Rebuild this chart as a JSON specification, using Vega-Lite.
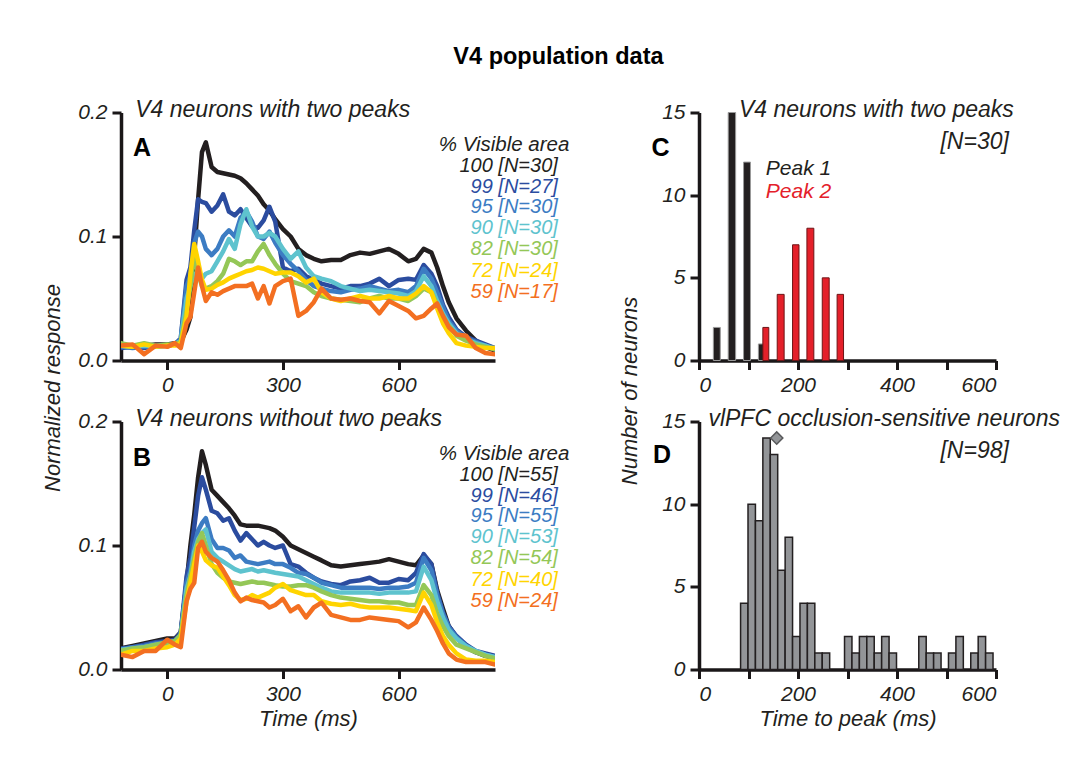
{
  "$schema": "https://vega.github.io/schema/vega-lite/v6.json",
  "background": "white",
  "padding": {"left": 41, "top": 44.5, "right": 10, "bottom": 10},
  "title": {"text": "V4 population data", "font": "Liberation Sans", "fontSize": 23.5, "fontWeight": "bold", "color": "#000000", "anchor": "middle", "offset": 30, "dx": 8},
  "config": {
    "view": {"stroke": null},
    "font": "Liberation Sans",
    "axis": {
      "grid": false,
      "domainColor": "#1a1718", "domainWidth": 3.5,
      "tickColor": "#1a1718", "tickWidth": 3, "tickSize": 9,
      "labelFont": "Liberation Sans", "labelFontStyle": "italic", "labelFontSize": 21, "labelColor": "#231f20", "labelPadding": 5,
      "titleFont": "Liberation Sans", "titleFontStyle": "italic", "titleFontWeight": "normal", "titleFontSize": 22, "titleColor": "#231f20"
    },
    "text": {"font": "Liberation Sans"}
  },
  "datasets": {
    "A": [
      {"t": -120, "100": 0.011, "99": 0.010, "95": 0.011, "90": 0.012, "82": 0.014, "72": 0.012, "59": 0.012},
      {"t": -90, "100": 0.012, "99": 0.011, "95": 0.010, "90": 0.011, "82": 0.012, "72": 0.011, "59": 0.013},
      {"t": -60, "100": 0.012, "99": 0.010, "95": 0.011, "90": 0.012, "82": 0.014, "72": 0.013, "59": 0.005},
      {"t": -30, "100": 0.013, "99": 0.012, "95": 0.011, "90": 0.011, "82": 0.012, "72": 0.011, "59": 0.012},
      {"t": 0, "100": 0.013, "99": 0.012, "95": 0.012, "90": 0.012, "82": 0.013, "72": 0.012, "59": 0.011},
      {"t": 20, "100": 0.014, "99": 0.013, "95": 0.013, "90": 0.013, "82": 0.013, "72": 0.012, "59": 0.014},
      {"t": 35, "100": 0.015, "99": 0.018, "95": 0.017, "90": 0.016, "82": 0.015, "72": 0.014, "59": 0.010},
      {"t": 50, "100": 0.025, "99": 0.065, "95": 0.060, "90": 0.050, "82": 0.040, "72": 0.035, "59": 0.030},
      {"t": 60, "100": 0.035, "99": 0.075, "95": 0.068, "90": 0.060, "82": 0.060, "72": 0.070, "59": 0.035},
      {"t": 70, "100": 0.085, "99": 0.105, "95": 0.095, "90": 0.070, "82": 0.085, "72": 0.094, "59": 0.055},
      {"t": 80, "100": 0.130, "99": 0.130, "95": 0.104, "90": 0.068, "82": 0.070, "72": 0.080, "59": 0.075},
      {"t": 90, "100": 0.168, "99": 0.128, "95": 0.100, "90": 0.066, "82": 0.060, "72": 0.065, "59": 0.060},
      {"t": 100, "100": 0.176, "99": 0.127, "95": 0.090, "90": 0.070, "82": 0.058, "72": 0.057, "59": 0.048},
      {"t": 115, "100": 0.156, "99": 0.120, "95": 0.085, "90": 0.072, "82": 0.060, "72": 0.058, "59": 0.055},
      {"t": 130, "100": 0.152, "99": 0.125, "95": 0.090, "90": 0.080, "82": 0.064, "72": 0.061, "59": 0.053},
      {"t": 145, "100": 0.151, "99": 0.134, "95": 0.100, "90": 0.088, "82": 0.070, "72": 0.063, "59": 0.056},
      {"t": 160, "100": 0.150, "99": 0.120, "95": 0.105, "90": 0.098, "82": 0.082, "72": 0.066, "59": 0.058},
      {"t": 175, "100": 0.149, "99": 0.117, "95": 0.100, "90": 0.090, "82": 0.080, "72": 0.068, "59": 0.060},
      {"t": 190, "100": 0.147, "99": 0.122, "95": 0.115, "90": 0.110, "82": 0.077, "72": 0.070, "59": 0.060},
      {"t": 205, "100": 0.143, "99": 0.115, "95": 0.120, "90": 0.122, "82": 0.080, "72": 0.072, "59": 0.060},
      {"t": 220, "100": 0.138, "99": 0.108, "95": 0.112, "90": 0.108, "82": 0.080, "72": 0.073, "59": 0.062},
      {"t": 235, "100": 0.133, "99": 0.107, "95": 0.100, "90": 0.100, "82": 0.088, "72": 0.075, "59": 0.050},
      {"t": 250, "100": 0.126, "99": 0.113, "95": 0.098, "90": 0.100, "82": 0.094, "72": 0.074, "59": 0.060},
      {"t": 265, "100": 0.121, "99": 0.124, "95": 0.104, "90": 0.103, "82": 0.085, "72": 0.072, "59": 0.046},
      {"t": 280, "100": 0.114, "99": 0.112, "95": 0.095, "90": 0.100, "82": 0.078, "72": 0.070, "59": 0.060},
      {"t": 300, "100": 0.106, "99": 0.075, "95": 0.085, "90": 0.090, "82": 0.070, "72": 0.071, "59": 0.064},
      {"t": 320, "100": 0.100, "99": 0.072, "95": 0.078, "90": 0.082, "82": 0.064, "72": 0.071, "59": 0.066},
      {"t": 340, "100": 0.090, "99": 0.074, "95": 0.072, "90": 0.088, "82": 0.062, "72": 0.068, "59": 0.036},
      {"t": 360, "100": 0.085, "99": 0.068, "95": 0.065, "90": 0.075, "82": 0.060, "72": 0.063, "59": 0.040},
      {"t": 380, "100": 0.082, "99": 0.065, "95": 0.060, "90": 0.068, "82": 0.055, "72": 0.066, "59": 0.047},
      {"t": 400, "100": 0.080, "99": 0.062, "95": 0.058, "90": 0.066, "82": 0.052, "72": 0.055, "59": 0.058},
      {"t": 425, "100": 0.081, "99": 0.060, "95": 0.056, "90": 0.064, "82": 0.050, "72": 0.050, "59": 0.050},
      {"t": 450, "100": 0.081, "99": 0.058, "95": 0.055, "90": 0.060, "82": 0.049, "72": 0.048, "59": 0.049},
      {"t": 475, "100": 0.085, "99": 0.060, "95": 0.057, "90": 0.058, "82": 0.048, "72": 0.050, "59": 0.050},
      {"t": 500, "100": 0.087, "99": 0.060, "95": 0.058, "90": 0.056, "82": 0.047, "72": 0.052, "59": 0.048},
      {"t": 525, "100": 0.086, "99": 0.062, "95": 0.060, "90": 0.057, "82": 0.050, "72": 0.050, "59": 0.047},
      {"t": 550, "100": 0.088, "99": 0.066, "95": 0.058, "90": 0.056, "82": 0.052, "72": 0.050, "59": 0.038},
      {"t": 575, "100": 0.090, "99": 0.060, "95": 0.056, "90": 0.055, "82": 0.050, "72": 0.052, "59": 0.048},
      {"t": 600, "100": 0.086, "99": 0.065, "95": 0.057, "90": 0.054, "82": 0.050, "72": 0.050, "59": 0.044},
      {"t": 625, "100": 0.080, "99": 0.066, "95": 0.055, "90": 0.052, "82": 0.048, "72": 0.050, "59": 0.040},
      {"t": 645, "100": 0.082, "99": 0.065, "95": 0.060, "90": 0.056, "82": 0.052, "72": 0.054, "59": 0.034},
      {"t": 665, "100": 0.090, "99": 0.077, "95": 0.074, "90": 0.068, "82": 0.058, "72": 0.060, "59": 0.036},
      {"t": 685, "100": 0.087, "99": 0.070, "95": 0.066, "90": 0.060, "82": 0.055, "72": 0.055, "59": 0.042},
      {"t": 700, "100": 0.075, "99": 0.060, "95": 0.055, "90": 0.048, "82": 0.045, "72": 0.042, "59": 0.046},
      {"t": 715, "100": 0.060, "99": 0.045, "95": 0.043, "90": 0.038, "82": 0.035, "72": 0.030, "59": 0.036},
      {"t": 730, "100": 0.047, "99": 0.035, "95": 0.032, "90": 0.030, "82": 0.028, "72": 0.022, "59": 0.027},
      {"t": 750, "100": 0.034, "99": 0.025, "95": 0.024, "90": 0.022, "82": 0.020, "72": 0.014, "59": 0.021},
      {"t": 775, "100": 0.024, "99": 0.019, "95": 0.018, "90": 0.017, "82": 0.016, "72": 0.012, "59": 0.020},
      {"t": 800, "100": 0.016, "99": 0.016, "95": 0.015, "90": 0.014, "82": 0.013, "72": 0.011, "59": 0.010},
      {"t": 825, "100": 0.011, "99": 0.013, "95": 0.012, "90": 0.012, "82": 0.011, "72": 0.010, "59": 0.006},
      {"t": 850, "100": 0.008, "99": 0.010, "95": 0.010, "90": 0.009, "82": 0.009, "72": 0.010, "59": 0.005}
    ],
    "B": [
      {"t": -120, "100": 0.017, "99": 0.017, "95": 0.016, "90": 0.016, "82": 0.015, "72": 0.012, "59": 0.012},
      {"t": -90, "100": 0.019, "99": 0.018, "95": 0.018, "90": 0.017, "82": 0.017, "72": 0.015, "59": 0.010},
      {"t": -60, "100": 0.021, "99": 0.020, "95": 0.019, "90": 0.018, "82": 0.018, "72": 0.015, "59": 0.015},
      {"t": -30, "100": 0.023, "99": 0.022, "95": 0.021, "90": 0.020, "82": 0.020, "72": 0.017, "59": 0.015},
      {"t": 0, "100": 0.025, "99": 0.023, "95": 0.022, "90": 0.020, "82": 0.022, "72": 0.018, "59": 0.024},
      {"t": 20, "100": 0.025, "99": 0.024, "95": 0.023, "90": 0.022, "82": 0.023, "72": 0.020, "59": 0.020},
      {"t": 35, "100": 0.030, "99": 0.030, "95": 0.028, "90": 0.028, "82": 0.028, "72": 0.025, "59": 0.018},
      {"t": 50, "100": 0.070, "99": 0.075, "95": 0.070, "90": 0.065, "82": 0.060, "72": 0.055, "59": 0.055},
      {"t": 60, "100": 0.100, "99": 0.090, "95": 0.080, "90": 0.075, "82": 0.075, "72": 0.070, "59": 0.065},
      {"t": 70, "100": 0.125, "99": 0.115, "95": 0.100, "90": 0.095, "82": 0.090, "72": 0.085, "59": 0.070},
      {"t": 80, "100": 0.155, "99": 0.140, "95": 0.112, "90": 0.105, "82": 0.103, "72": 0.100, "59": 0.098},
      {"t": 90, "100": 0.176, "99": 0.155, "95": 0.118, "90": 0.110, "82": 0.110, "72": 0.095, "59": 0.103},
      {"t": 100, "100": 0.165, "99": 0.145, "95": 0.122, "90": 0.113, "82": 0.100, "72": 0.088, "59": 0.095},
      {"t": 115, "100": 0.145, "99": 0.128, "95": 0.105, "90": 0.095, "82": 0.085, "72": 0.084, "59": 0.090},
      {"t": 130, "100": 0.140, "99": 0.126, "95": 0.098, "90": 0.090, "82": 0.078, "72": 0.082, "59": 0.087},
      {"t": 145, "100": 0.135, "99": 0.120, "95": 0.098, "90": 0.087, "82": 0.074, "72": 0.075, "59": 0.080},
      {"t": 160, "100": 0.130, "99": 0.122, "95": 0.096, "90": 0.084, "82": 0.071, "72": 0.068, "59": 0.072},
      {"t": 175, "100": 0.124, "99": 0.112, "95": 0.090, "90": 0.081, "82": 0.070, "72": 0.060, "59": 0.062},
      {"t": 190, "100": 0.117, "99": 0.104, "95": 0.092, "90": 0.079, "82": 0.069, "72": 0.056, "59": 0.055},
      {"t": 205, "100": 0.116, "99": 0.110, "95": 0.087, "90": 0.080, "82": 0.070, "72": 0.057, "59": 0.058},
      {"t": 220, "100": 0.116, "99": 0.105, "95": 0.086, "90": 0.081, "82": 0.071, "72": 0.060, "59": 0.056},
      {"t": 235, "100": 0.116, "99": 0.100, "95": 0.085, "90": 0.079, "82": 0.070, "72": 0.058, "59": 0.055},
      {"t": 250, "100": 0.115, "99": 0.103, "95": 0.086, "90": 0.080, "82": 0.070, "72": 0.060, "59": 0.054},
      {"t": 265, "100": 0.114, "99": 0.100, "95": 0.087, "90": 0.079, "82": 0.069, "72": 0.062, "59": 0.050},
      {"t": 280, "100": 0.112, "99": 0.098, "95": 0.085, "90": 0.078, "82": 0.068, "72": 0.066, "59": 0.052},
      {"t": 300, "100": 0.107, "99": 0.100, "95": 0.085, "90": 0.077, "82": 0.067, "72": 0.069, "59": 0.057},
      {"t": 320, "100": 0.100, "99": 0.085, "95": 0.082, "90": 0.076, "82": 0.067, "72": 0.064, "59": 0.047},
      {"t": 340, "100": 0.097, "99": 0.083, "95": 0.078, "90": 0.075, "82": 0.068, "72": 0.062, "59": 0.051},
      {"t": 360, "100": 0.094, "99": 0.078, "95": 0.077, "90": 0.072, "82": 0.068, "72": 0.060, "59": 0.042},
      {"t": 380, "100": 0.091, "99": 0.074, "95": 0.074, "90": 0.069, "82": 0.066, "72": 0.060, "59": 0.050},
      {"t": 400, "100": 0.088, "99": 0.071, "95": 0.070, "90": 0.066, "82": 0.063, "72": 0.055, "59": 0.054},
      {"t": 425, "100": 0.084, "99": 0.069, "95": 0.068, "90": 0.063, "82": 0.060, "72": 0.053, "59": 0.044},
      {"t": 450, "100": 0.083, "99": 0.068, "95": 0.066, "90": 0.062, "82": 0.058, "72": 0.052, "59": 0.042},
      {"t": 475, "100": 0.084, "99": 0.071, "95": 0.066, "90": 0.062, "82": 0.057, "72": 0.053, "59": 0.040},
      {"t": 500, "100": 0.085, "99": 0.072, "95": 0.066, "90": 0.062, "82": 0.056, "72": 0.051, "59": 0.040},
      {"t": 525, "100": 0.086, "99": 0.074, "95": 0.066, "90": 0.062, "82": 0.055, "72": 0.050, "59": 0.042},
      {"t": 550, "100": 0.087, "99": 0.070, "95": 0.065, "90": 0.061, "82": 0.055, "72": 0.050, "59": 0.041},
      {"t": 575, "100": 0.089, "99": 0.070, "95": 0.066, "90": 0.062, "82": 0.054, "72": 0.050, "59": 0.040},
      {"t": 600, "100": 0.087, "99": 0.073, "95": 0.066, "90": 0.062, "82": 0.054, "72": 0.049, "59": 0.039},
      {"t": 625, "100": 0.085, "99": 0.072, "95": 0.067, "90": 0.062, "82": 0.052, "72": 0.048, "59": 0.034},
      {"t": 645, "100": 0.084, "99": 0.078, "95": 0.070, "90": 0.063, "82": 0.052, "72": 0.047, "59": 0.038},
      {"t": 665, "100": 0.092, "99": 0.093, "95": 0.090, "90": 0.083, "82": 0.068, "72": 0.062, "59": 0.050},
      {"t": 685, "100": 0.085, "99": 0.085, "95": 0.080, "90": 0.072, "82": 0.060, "72": 0.052, "59": 0.040},
      {"t": 700, "100": 0.064, "99": 0.062, "95": 0.060, "90": 0.055, "82": 0.045, "72": 0.038, "59": 0.031},
      {"t": 715, "100": 0.049, "99": 0.046, "95": 0.045, "90": 0.042, "82": 0.035, "72": 0.027, "59": 0.021},
      {"t": 730, "100": 0.035, "99": 0.035, "95": 0.034, "90": 0.032, "82": 0.027, "72": 0.020, "59": 0.013},
      {"t": 750, "100": 0.026, "99": 0.027, "95": 0.026, "90": 0.025, "82": 0.020, "72": 0.013, "59": 0.008},
      {"t": 775, "100": 0.018, "99": 0.020, "95": 0.019, "90": 0.019, "82": 0.017, "72": 0.008, "59": 0.006},
      {"t": 800, "100": 0.014, "99": 0.015, "95": 0.014, "90": 0.015, "82": 0.014, "72": 0.007, "59": 0.006},
      {"t": 825, "100": 0.011, "99": 0.013, "95": 0.012, "90": 0.012, "82": 0.011, "72": 0.007, "59": 0.006},
      {"t": 850, "100": 0.009, "99": 0.011, "95": 0.010, "90": 0.010, "82": 0.009, "72": 0.006, "59": 0.004}
    ],
    "C": [
      {"peak": "Peak 1", "start": 29, "end": 43, "n": 2},
      {"peak": "Peak 1", "start": 59, "end": 74, "n": 15},
      {"peak": "Peak 1", "start": 90, "end": 104, "n": 12},
      {"peak": "Peak 1", "start": 120, "end": 134, "n": 1},
      {"peak": "Peak 2", "start": 129, "end": 141, "n": 2},
      {"peak": "Peak 2", "start": 158, "end": 172, "n": 4},
      {"peak": "Peak 2", "start": 189, "end": 202, "n": 7},
      {"peak": "Peak 2", "start": 218, "end": 232, "n": 8},
      {"peak": "Peak 2", "start": 249, "end": 263, "n": 5},
      {"peak": "Peak 2", "start": 279, "end": 292, "n": 4}
    ],
    "D": [
      {"start": 84, "end": 99, "n": 4}, {"start": 99, "end": 114, "n": 10}, {"start": 114, "end": 129, "n": 9},
      {"start": 129, "end": 144, "n": 14}, {"start": 144, "end": 159, "n": 13}, {"start": 159, "end": 174, "n": 6},
      {"start": 174, "end": 189, "n": 8}, {"start": 189, "end": 204, "n": 2}, {"start": 204, "end": 219, "n": 4},
      {"start": 219, "end": 234, "n": 4}, {"start": 234, "end": 249, "n": 1}, {"start": 249, "end": 264, "n": 1},
      {"start": 294, "end": 309, "n": 2}, {"start": 309, "end": 324, "n": 1}, {"start": 324, "end": 339, "n": 2},
      {"start": 339, "end": 354, "n": 2}, {"start": 354, "end": 369, "n": 1}, {"start": 369, "end": 384, "n": 2},
      {"start": 384, "end": 399, "n": 1},
      {"start": 444, "end": 459, "n": 2}, {"start": 459, "end": 474, "n": 1}, {"start": 474, "end": 489, "n": 1},
      {"start": 504, "end": 519, "n": 1}, {"start": 519, "end": 534, "n": 2},
      {"start": 549, "end": 564, "n": 1}, {"start": 564, "end": 579, "n": 2}, {"start": 579, "end": 594, "n": 1}
    ],
    "Dmean": [{"t": 157, "n": 14}]
  },
  "columns": 2,
  "bounds": "flush",
  "spacing": {"row": 61, "column": 204},
  "concat": [
    {
      "width": 374, "height": 248,
      "layer": [
        {
          "data": {"name": "A"},
          "transform": [{"fold": ["100", "99", "95", "90", "82", "72", "59"], "as": ["s", "v"]}],
          "mark": {"type": "line", "strokeWidth": 4.5, "strokeJoin": "round", "strokeCap": "round", "clip": true},
          "encoding": {
            "x": {"field": "t", "type": "quantitative", "scale": {"domain": [-120, 850], "nice": false, "zero": false}, "axis": {"values": [0, 300, 600], "title": null}},
            "y": {"field": "v", "type": "quantitative", "scale": {"domain": [0, 0.2], "nice": false}, "axis": {"values": [0, 0.1, 0.2], "format": ".1f", "title": "Normalized response", "titleX": -57, "titleY": 275, "titleBaseline": "bottom"}},
            "color": {"field": "s", "type": "nominal", "legend": null, "scale": {"domain": ["100", "99", "95", "90", "82", "72", "59"], "range": ["#231f20", "#2b4c9f", "#3c7cc3", "#5ec3ce", "#94c757", "#ffd400", "#f36f21"]}}
          }
        },
        {"data": {"values": [{}]}, "mark": {"type": "text", "text": "V4 neurons with two peaks", "align": "left", "baseline": "alphabetic", "fontSize": 23, "fontStyle": "italic", "color": "#231f20"}, "encoding": {"x": {"datum": -83}, "y": {"datum": 0.196}}},
        {"data": {"values": [{}]}, "mark": {"type": "text", "text": "A", "align": "left", "baseline": "alphabetic", "fontSize": 25, "fontWeight": "bold", "color": "#000000"}, "encoding": {"x": {"datum": -89}, "y": {"datum": 0.1648}}},
        {"data": {"values": [{}]}, "mark": {"type": "text", "text": "% Visible area", "align": "left", "baseline": "alphabetic", "fontSize": 20.5, "fontStyle": "italic", "color": "#231f20"}, "encoding": {"x": {"datum": 704}, "y": {"datum": 0.1688}}},
        {"data": {"values": [{}]}, "mark": {"type": "text", "text": "100 [N=30]", "align": "right", "baseline": "alphabetic", "fontSize": 20, "fontStyle": "italic", "color": "#231f20"}, "encoding": {"x": {"datum": 1013}, "y": {"datum": 0.1519}}},
        {"data": {"values": [{}]}, "mark": {"type": "text", "text": "99 [N=27]", "align": "right", "baseline": "alphabetic", "fontSize": 20, "fontStyle": "italic", "color": "#2b4c9f"}, "encoding": {"x": {"datum": 1013}, "y": {"datum": 0.1349}}},
        {"data": {"values": [{}]}, "mark": {"type": "text", "text": "95 [N=30]", "align": "right", "baseline": "alphabetic", "fontSize": 20, "fontStyle": "italic", "color": "#3c7cc3"}, "encoding": {"x": {"datum": 1013}, "y": {"datum": 0.1188}}},
        {"data": {"values": [{}]}, "mark": {"type": "text", "text": "90 [N=30]", "align": "right", "baseline": "alphabetic", "fontSize": 20, "fontStyle": "italic", "color": "#5ec3ce"}, "encoding": {"x": {"datum": 1013}, "y": {"datum": 0.1019}}},
        {"data": {"values": [{}]}, "mark": {"type": "text", "text": "82 [N=30]", "align": "right", "baseline": "alphabetic", "fontSize": 20, "fontStyle": "italic", "color": "#94c757"}, "encoding": {"x": {"datum": 1013}, "y": {"datum": 0.0849}}},
        {"data": {"values": [{}]}, "mark": {"type": "text", "text": "72 [N=24]", "align": "right", "baseline": "alphabetic", "fontSize": 20, "fontStyle": "italic", "color": "#ffd400"}, "encoding": {"x": {"datum": 1013}, "y": {"datum": 0.0672}}},
        {"data": {"values": [{}]}, "mark": {"type": "text", "text": "59 [N=17]", "align": "right", "baseline": "alphabetic", "fontSize": 20, "fontStyle": "italic", "color": "#f36f21"}, "encoding": {"x": {"datum": 1013}, "y": {"datum": 0.0502}}}
      ]
    },
    {
      "width": 297, "height": 248,
      "layer": [
        {
          "data": {"name": "C"},
          "mark": {"type": "rect", "strokeWidth": 1},
          "encoding": {
            "x": {"field": "start", "type": "quantitative", "scale": {"domain": [0, 600], "nice": false}, "axis": {"values": [0, 100, 200, 300, 400, 500, 600], "labelExpr": "datum.value % 200 === 0 ? datum.label : ''", "title": null}},
            "x2": {"field": "end"},
            "y": {"field": "n", "type": "quantitative", "scale": {"domain": [0, 15], "nice": false}, "axis": {"values": [0, 5, 10, 15], "title": "Number of neurons", "titleX": -58, "titleY": 278, "titleBaseline": "bottom"}},
            "y2": {"datum": 0},
            "fill": {"field": "peak", "type": "nominal", "legend": null, "scale": {"domain": ["Peak 1", "Peak 2"], "range": ["#231f20", "#e4202a"]}},
            "stroke": {"field": "peak", "type": "nominal", "legend": null, "scale": {"domain": ["Peak 1", "Peak 2"], "range": ["#9a9a9a", "#6d1416"]}}
          }
        },
        {"data": {"values": [{}]}, "mark": {"type": "text", "text": "V4 neurons with two peaks", "align": "right", "baseline": "alphabetic", "fontSize": 23, "fontStyle": "italic", "color": "#231f20"}, "encoding": {"x": {"datum": 636}, "y": {"datum": 14.73}}},
        {"data": {"values": [{}]}, "mark": {"type": "text", "text": "[N=30]", "align": "right", "baseline": "alphabetic", "fontSize": 23, "fontStyle": "italic", "color": "#231f20"}, "encoding": {"x": {"datum": 626}, "y": {"datum": 12.79}}},
        {"data": {"values": [{}]}, "mark": {"type": "text", "text": "C", "align": "left", "baseline": "alphabetic", "fontSize": 25, "fontWeight": "bold", "color": "#000000"}, "encoding": {"x": {"datum": -96}, "y": {"datum": 12.36}}},
        {"data": {"values": [{}]}, "mark": {"type": "text", "text": "Peak 1", "align": "left", "baseline": "alphabetic", "fontSize": 21, "fontStyle": "italic", "color": "#231f20"}, "encoding": {"x": {"datum": 135}, "y": {"datum": 11.2}}},
        {"data": {"values": [{}]}, "mark": {"type": "text", "text": "Peak 2", "align": "left", "baseline": "alphabetic", "fontSize": 21, "fontStyle": "italic", "color": "#e4202a"}, "encoding": {"x": {"datum": 135}, "y": {"datum": 9.8}}}
      ]
    },
    {
      "width": 374, "height": 248,
      "layer": [
        {
          "data": {"name": "B"},
          "transform": [{"fold": ["100", "99", "95", "90", "82", "72", "59"], "as": ["s", "v"]}],
          "mark": {"type": "line", "strokeWidth": 4.5, "strokeJoin": "round", "strokeCap": "round", "clip": true},
          "encoding": {
            "x": {"field": "t", "type": "quantitative", "scale": {"domain": [-120, 850], "nice": false, "zero": false}, "axis": {"values": [0, 300, 600], "title": "Time (ms)", "titlePadding": 4}},
            "y": {"field": "v", "type": "quantitative", "scale": {"domain": [0, 0.2], "nice": false}, "axis": {"values": [0, 0.1, 0.2], "format": ".1f", "title": null}},
            "color": {"field": "s", "type": "nominal", "legend": null, "scale": {"domain": ["100", "99", "95", "90", "82", "72", "59"], "range": ["#231f20", "#2b4c9f", "#3c7cc3", "#5ec3ce", "#94c757", "#ffd400", "#f36f21"]}}
          }
        },
        {"data": {"values": [{}]}, "mark": {"type": "text", "text": "V4 neurons without two peaks", "align": "left", "baseline": "alphabetic", "fontSize": 23, "fontStyle": "italic", "color": "#231f20"}, "encoding": {"x": {"datum": -83}, "y": {"datum": 0.1965}}},
        {"data": {"values": [{}]}, "mark": {"type": "text", "text": "B", "align": "left", "baseline": "alphabetic", "fontSize": 25, "fontWeight": "bold", "color": "#000000"}, "encoding": {"x": {"datum": -89}, "y": {"datum": 0.164}}},
        {"data": {"values": [{}]}, "mark": {"type": "text", "text": "% Visible area", "align": "left", "baseline": "alphabetic", "fontSize": 20.5, "fontStyle": "italic", "color": "#231f20"}, "encoding": {"x": {"datum": 704}, "y": {"datum": 0.1688}}},
        {"data": {"values": [{}]}, "mark": {"type": "text", "text": "100 [N=55]", "align": "right", "baseline": "alphabetic", "fontSize": 20, "fontStyle": "italic", "color": "#231f20"}, "encoding": {"x": {"datum": 1013}, "y": {"datum": 0.1519}}},
        {"data": {"values": [{}]}, "mark": {"type": "text", "text": "99 [N=46]", "align": "right", "baseline": "alphabetic", "fontSize": 20, "fontStyle": "italic", "color": "#2b4c9f"}, "encoding": {"x": {"datum": 1013}, "y": {"datum": 0.1349}}},
        {"data": {"values": [{}]}, "mark": {"type": "text", "text": "95 [N=55]", "align": "right", "baseline": "alphabetic", "fontSize": 20, "fontStyle": "italic", "color": "#3c7cc3"}, "encoding": {"x": {"datum": 1013}, "y": {"datum": 0.1188}}},
        {"data": {"values": [{}]}, "mark": {"type": "text", "text": "90 [N=53]", "align": "right", "baseline": "alphabetic", "fontSize": 20, "fontStyle": "italic", "color": "#5ec3ce"}, "encoding": {"x": {"datum": 1013}, "y": {"datum": 0.1019}}},
        {"data": {"values": [{}]}, "mark": {"type": "text", "text": "82 [N=54]", "align": "right", "baseline": "alphabetic", "fontSize": 20, "fontStyle": "italic", "color": "#94c757"}, "encoding": {"x": {"datum": 1013}, "y": {"datum": 0.0849}}},
        {"data": {"values": [{}]}, "mark": {"type": "text", "text": "72 [N=40]", "align": "right", "baseline": "alphabetic", "fontSize": 20, "fontStyle": "italic", "color": "#ffd400"}, "encoding": {"x": {"datum": 1013}, "y": {"datum": 0.0672}}},
        {"data": {"values": [{}]}, "mark": {"type": "text", "text": "59 [N=24]", "align": "right", "baseline": "alphabetic", "fontSize": 20, "fontStyle": "italic", "color": "#f36f21"}, "encoding": {"x": {"datum": 1013}, "y": {"datum": 0.0502}}}
      ]
    },
    {
      "width": 297, "height": 248,
      "layer": [
        {
          "data": {"name": "D"},
          "mark": {"type": "rect", "fill": "#939598", "stroke": "#231f20", "strokeWidth": 1.5},
          "encoding": {
            "x": {"field": "start", "type": "quantitative", "scale": {"domain": [0, 600], "nice": false}, "axis": {"values": [0, 100, 200, 300, 400, 500, 600], "labelExpr": "datum.value % 200 === 0 ? datum.label : ''", "title": "Time to peak (ms)", "titlePadding": 4}},
            "x2": {"field": "end"},
            "y": {"field": "n", "type": "quantitative", "scale": {"domain": [0, 15], "nice": false}, "axis": {"values": [0, 5, 10, 15], "title": null}},
            "y2": {"datum": 0}
          }
        },
        {
          "data": {"name": "Dmean"},
          "mark": {"type": "point", "shape": "diamond", "filled": true, "size": 150, "fill": "#939598", "stroke": "#58595b", "strokeWidth": 1.5, "opacity": 1},
          "encoding": {"x": {"field": "t", "type": "quantitative"}, "y": {"field": "n", "type": "quantitative"}}
        },
        {"data": {"values": [{}]}, "mark": {"type": "text", "text": "vlPFC occlusion-sensitive neurons", "align": "left", "baseline": "alphabetic", "fontSize": 23, "fontStyle": "italic", "color": "#231f20"}, "encoding": {"x": {"datum": 19}, "y": {"datum": 14.73}}},
        {"data": {"values": [{}]}, "mark": {"type": "text", "text": "[N=98]", "align": "right", "baseline": "alphabetic", "fontSize": 23, "fontStyle": "italic", "color": "#231f20"}, "encoding": {"x": {"datum": 626}, "y": {"datum": 12.78}}},
        {"data": {"values": [{}]}, "mark": {"type": "text", "text": "D", "align": "left", "baseline": "alphabetic", "fontSize": 25, "fontWeight": "bold", "color": "#000000"}, "encoding": {"x": {"datum": -93}, "y": {"datum": 12.48}}}
      ]
    }
  ]
}
